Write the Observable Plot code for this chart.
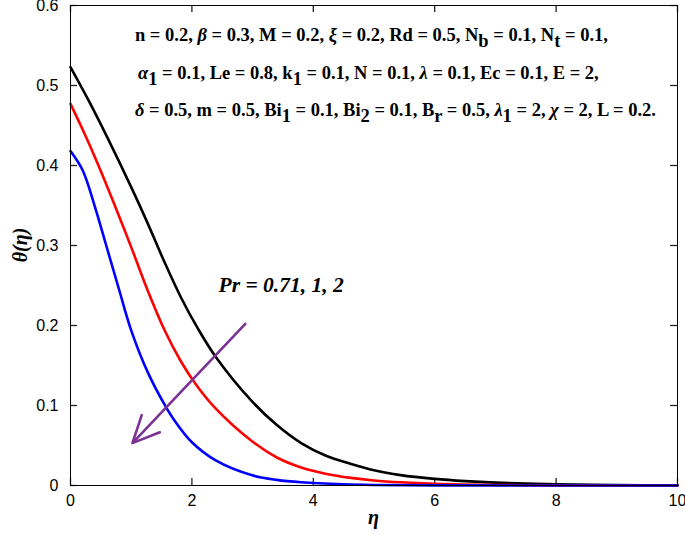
<!DOCTYPE html>
<html>
<head>
<meta charset="utf-8">
<script src="https://cdn.jsdelivr.net/npm/d3@7"></script>
<script src="https://cdn.jsdelivr.net/npm/@observablehq/plot@0.6"></script>
<style>
  html, body { margin: 0; padding: 0; background: white; }
</style>
</head>
<body>
<div id="chart"></div>
<script>
// ---- Data ----
const xTicks = [0, 2, 4, 6, 8, 10];
const yTicks = [0, 0.1, 0.2, 0.3, 0.4, 0.5, 0.6];

// Pr = 0.71 (black)
const etaBlack = [0, 0.3, 0.6, 1.0, 1.27, 1.55, 1.82, 2.1, 2.4, 2.98, 3.4, 3.8, 4.2, 4.62, 5.0, 5.44, 6, 6.5, 7, 8, 9, 10];
const thetaBlack = [0.523, 0.481, 0.436, 0.373, 0.328, 0.279, 0.235, 0.196, 0.160, 0.106, 0.0755, 0.053, 0.0375, 0.027, 0.019, 0.013, 0.0083, 0.0055, 0.0036, 0.0015, 0.0006, 0.0002];
// Pr = 1 (red)
const etaRed = [0, 0.23, 0.45, 0.72, 1.0, 1.27, 1.55, 1.82, 2.07, 2.37, 2.98, 3.4, 3.8, 4.2, 4.62, 5.0, 5.44, 6, 7, 8, 9, 10];
const thetaRed = [0.477, 0.44, 0.402, 0.352, 0.298, 0.244, 0.194, 0.155, 0.126, 0.098, 0.056, 0.035, 0.0225, 0.0148, 0.0095, 0.0063, 0.004, 0.0022, 0.0007, 0.0002, 0.0001, 0];
// Pr = 2 (blue)
const etaBlue = [0, 0.2, 0.4, 0.6, 0.8, 1.0, 1.27, 1.55, 1.71, 2.0, 2.4, 2.98, 3.4, 3.8, 4.5, 5, 6, 8, 10];
const thetaBlue = [0.418, 0.394, 0.349, 0.297, 0.245, 0.194, 0.142, 0.101, 0.0815, 0.054, 0.031, 0.013, 0.007, 0.004, 0.0015, 0.0007, 0.0002, 0.00005, 0];

const seriesNames = ["Pr = 0.71", "Pr = 1", "Pr = 2"];
const seriesColors = ["#000000", "#ff0000", "#0000ff"];

// Annotation arrow (data coordinates)
const arrowFrom = [2.88, 0.202];
const arrowTo = [1.02, 0.053];
const arrowLabel = "Pr = 0.71, 1, 2";
const arrowLabelPos = [2.44, 0.25];

// Parameter text lines: [text, kind] ; kind: "" normal, "g" greek italic, "s" subscript
const paramLines = [
  [["n = 0.2, ",""],["β","g"],[" = 0.3, M = 0.2, ",""],["ξ","g"],[" = 0.2, Rd = 0.5, N",""],["b","s"],[" = 0.1, N",""],["t","s"],[" = 0.1,",""]],
  [["α","g"],["1","s"],[" = 0.1, Le = 0.8, k",""],["1","s"],[" = 0.1, N = 0.1, ",""],["λ","g"],[" = 0.1, Ec = 0.1, E = 2,",""]],
  [["δ","g"],[" = 0.5, m = 0.5, Bi",""],["1","s"],[" = 0.1, Bi",""],["2","s"],[" = 0.1, B",""],["r","s"],[" = 0.5, ",""],["λ","g"],["1","s"],[" = 2, ",""],["χ","g"],[" = 2, L = 0.2.",""]]
];
const paramX = [1.07, 1.12, 1.07];
const paramY = [0.5625, 0.516, 0.469];

const xLabel = "η";
const yLabel = "θ(η)";

// ---- Build table ----
const rows = [];
[[etaBlack, thetaBlack], [etaRed, thetaRed], [etaBlue, thetaBlue]].forEach(([xs, ys], i) => {
  xs.forEach((x, j) => rows.push({eta: x, theta: ys[j], series: seriesNames[i]}));
});

const serif = "'Liberation Serif', 'DejaVu Serif', serif";
const W = 685, H = 534, mL = 70, mR = 8, mT = 5, mB = 49;
const xDomain = [0, 10], yDomain = [0, 0.6];
const tickPx = 7;
// tick length converted from pixels into data units
const tx = tickPx * (xDomain[1] - xDomain[0]) / (W - mL - mR);
const ty = tickPx * (yDomain[1] - yDomain[0]) / (H - mT - mB);

const chart = Plot.plot({
  width: W,
  height: H,
  marginLeft: mL,
  marginRight: mR,
  marginTop: mT,
  marginBottom: mB,
  style: {fontFamily: "'Liberation Sans', Arial, sans-serif", fontSize: "16px", color: "black", background: "white"},
  x: {domain: xDomain},
  y: {domain: yDomain},
  color: {domain: seriesNames, range: seriesColors},
  marks: [
    // tick labels
    Plot.axisX(xTicks, {anchor: "bottom", tickSize: 0, tickPadding: 9, label: null, tickFormat: d => String(d)}),
    Plot.axisY(yTicks, {anchor: "left", tickSize: 0, tickPadding: 12, label: null, tickFormat: d => String(d)}),
    // inward tick marks on all four sides
    Plot.ruleX(xTicks, {x: d => d, y1: yDomain[0], y2: yDomain[0] + ty, stroke: "#222", strokeWidth: 1.3}),
    Plot.ruleX(xTicks, {x: d => d, y1: yDomain[1] - ty, y2: yDomain[1], stroke: "#222", strokeWidth: 1.3}),
    Plot.ruleY(yTicks, {y: d => d, x1: xDomain[0], x2: xDomain[0] + tx, stroke: "#222", strokeWidth: 1.3}),
    Plot.ruleY(yTicks, {y: d => d, x1: xDomain[1] - tx, x2: xDomain[1], stroke: "#222", strokeWidth: 1.3}),
    Plot.line(rows, {x: "eta", y: "theta", z: "series", stroke: "series", strokeWidth: 2.6, curve: "catmull-rom"}),
    Plot.arrow([{x1: arrowFrom[0], y1: arrowFrom[1], x2: arrowTo[0], y2: arrowTo[1]}], {
      x1: "x1", y1: "y1", x2: "x2", y2: "y2", stroke: "#7b3294", strokeWidth: 2.6, headLength: 17, headAngle: 50
    }),
    Plot.text([arrowLabel], {x: arrowLabelPos[0], y: arrowLabelPos[1], text: d => d, textAnchor: "start",
      fontFamily: serif, fontWeight: "bold", fontStyle: "italic", fontSize: 21.5, fill: "black"}),
    Plot.frame({stroke: "black", strokeWidth: 1})
  ]
});

const svg = d3.select(chart);
const sx = chart.scale("x"), sy = chart.scale("y");

// Parameter block
paramLines.forEach((line, i) => {
  const t = svg.append("text")
    .attr("x", sx.apply(paramX[i]))
    .attr("y", sy.apply(paramY[i]))
    .attr("dy", "0.35em")
    .attr("text-anchor", "start")
    .attr("font-family", serif)
    .attr("font-weight", "bold")
    .attr("font-size", 18.5)
    .attr("fill", "black");
  line.forEach(([s, kind]) => {
    const ts = t.append("tspan").text(s);
    if (kind === "g") ts.attr("font-style", "italic");
    if (kind === "s") ts.attr("baseline-shift", "-30%");
  });
});

// Axis labels
svg.append("text")
  .attr("x", sx.apply(5))
  .attr("y", 524)
  .attr("text-anchor", "middle")
  .attr("font-family", serif)
  .attr("font-weight", "bold").attr("font-style", "italic")
  .attr("font-size", 20)
  .text(xLabel);

svg.append("text")
  .attr("transform", `translate(27, ${sy.apply(0.3)}) rotate(-90)`)
  .attr("text-anchor", "middle")
  .attr("font-family", serif)
  .attr("font-weight", "bold").attr("font-style", "italic")
  .attr("font-size", 20)
  .text(yLabel);

document.getElementById("chart").appendChild(chart);
</script>
</body>
</html>
